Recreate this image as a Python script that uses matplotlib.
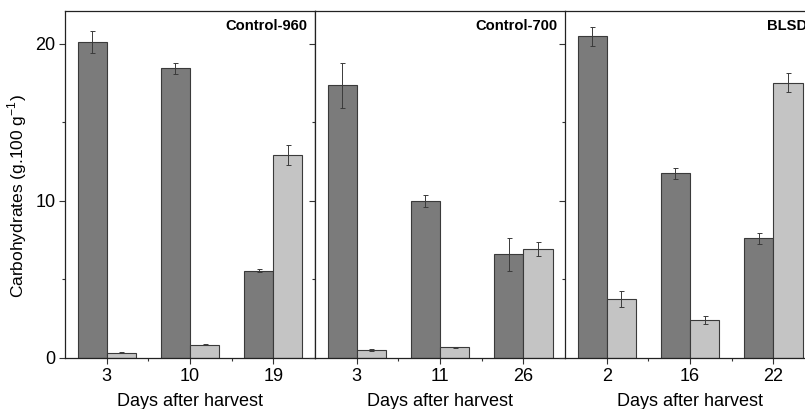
import numpy as np
import matplotlib
matplotlib.use('Agg')
import matplotlib.pyplot as plt
from matplotlib.ticker import MultipleLocator, FixedLocator

plt.rcParams['font.family'] = ['Liberation Sans', 'DejaVu Sans']

# values (g.100 g-1)
panels = ['Control-960', 'Control-700', 'BLSD']
days = [['3', '10', '19'], ['3', '11', '26'], ['2', '16', '22']]
dark_vals = [[20.1, 18.45, 5.56], [17.37, 10.0, 6.62], [20.5, 11.76, 7.64]]
dark_err = [[0.7, 0.35, 0.1], [1.45, 0.4, 1.05], [0.6, 0.35, 0.35]]
light_vals = [[0.34, 0.85, 12.93], [0.51, 0.68, 6.94], [3.76, 2.42, 17.52]]
light_err = [[0.03, 0.05, 0.65], [0.05, 0.04, 0.45], [0.5, 0.25, 0.6]]

dark_col = '#7b7b7b'
light_col = '#c4c4c4'
edge_col = '#3a3a3a'
bw = 0.35

fig = plt.figure(figsize=(8.05, 4.09), dpi=100)
W, H = 805, 409
left0, pw = 65, 250
bottom, top = 358, 11

for i, name in enumerate(panels):
    ax = fig.add_axes([(left0 + i * pw) / W, (H - bottom) / H, pw / W, (bottom - top) / H])
    x = np.arange(len(days[i]))
    ekw = dict(elinewidth=0.7, capsize=1.8, capthick=0.7, ecolor='#3a3a3a')
    ax.bar(x - bw / 2, dark_vals[i], bw, yerr=dark_err[i], color=dark_col,
           edgecolor=edge_col, linewidth=0.8, error_kw=ekw)
    ax.bar(x + bw / 2, light_vals[i], bw, yerr=light_err[i], color=light_col,
           edgecolor=edge_col, linewidth=0.8, error_kw=ekw)
    ax.set_xlim(-0.5, 2.5)
    ax.set_ylim(0, 22.1)
    ax.set_xticks(x, days[i])
    ax.xaxis.set_minor_locator(FixedLocator([0.5, 1.5]))
    ax.yaxis.set_major_locator(MultipleLocator(10))
    ax.yaxis.set_minor_locator(MultipleLocator(5))
    ax.tick_params(which='major', length=4, width=0.8, color='#333333',
                   labelsize=13, pad=3)
    ax.tick_params(which='minor', length=2, width=0.8, color='#333333')
    ax.tick_params(axis='y', right=False)
    if i > 0:
        ax.tick_params(axis='y', labelleft=False)
    for s in ax.spines.values():
        s.set_color('#222222')
        s.set_linewidth(0.9)
    ax.spines['right'].set_visible(i == 0)
    ax.set_xlabel('Days after harvest', fontsize=13, labelpad=6)
    # the right panel runs past the figure edge, as in the original
    ax.text(1 - 8 / pw, 1 - 8 / (bottom - top), name, transform=ax.transAxes,
            ha='right', va='top', fontsize=10.6, fontweight='bold')
    if i == 0:
        ax.set_ylabel('Carbohydrates (g.100 g$^{\\mathregular{-1}}$)', fontsize=12.5)
        ax.yaxis.set_label_coords(-0.145, 0.467)

fig.savefig('out.png', dpi=100)
